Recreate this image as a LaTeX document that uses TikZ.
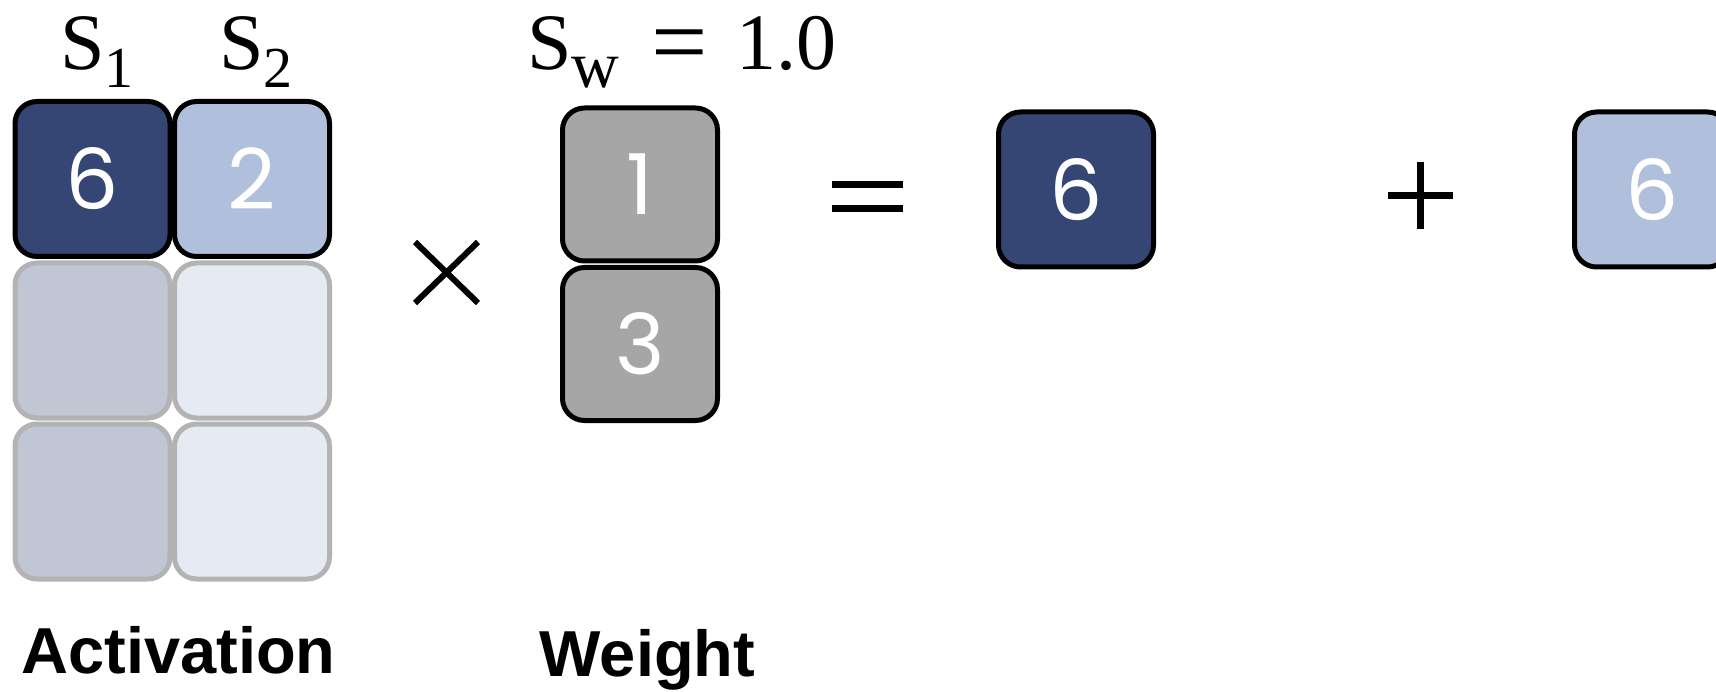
\documentclass[tikz,border=0pt]{standalone}
\usepackage{fontspec}
\newfontfamily\digitfont{Poppins}
\newfontfamily\labelfont{Liberation Sans}
\newfontfamily\serifmath{Liberation Serif}
\definecolor{navy}{HTML}{354574}
\definecolor{lightblue}{HTML}{B0BFDC}
\definecolor{fadenavy}{HTML}{C0C6D3}
\definecolor{fadelight}{HTML}{E6EAF3}
\definecolor{wgray}{HTML}{A6A6A6}
\definecolor{edgegray}{HTML}{B3B3B3}
\begin{document}
\begin{tikzpicture}[x=1pt,y=-1pt,
  cell/.style={draw=black, line width=5pt, rounded corners=22pt, minimum width=155pt, minimum height=155pt, inner sep=0pt, text=white, font=\digitfont\fontsize{84}{90}\selectfont},
  ghost/.style={cell, draw=edgegray},
  scalelbl/.style={anchor=base west, inner sep=0pt, font=\serifmath\fontsize{80}{90}\selectfont},
  namelbl/.style={anchor=base, inner sep=0pt, font=\labelfont\bfseries\fontsize{65}{70}\selectfont},
  opline/.style={line width=7pt}]
\useasboundingbox (0,0) rectangle (1716,692);
\clip (0,0) rectangle (1716,692);
% activation (faded rows)
\node[ghost, fill=fadenavy]  (a21) at (92.5,340.5) {};
\node[ghost, fill=fadelight] (a22) at (252,340.5) {};
\node[ghost, fill=fadenavy]  (a31) at (92.5,501.5) {};
\node[ghost, fill=fadelight] (a32) at (252,501.5) {};
% activation (active row)
\node[cell, fill=navy]      (a11) at (92.5,179) {6};
\node[cell, fill=lightblue] (a12) at (252,179) {2};
% scale labels
\node[scalelbl] (s1) at (60,70) {S\raisebox{-18pt}{\fontsize{58}{60}\selectfont 1}};
\node[scalelbl] (s2) at (219,70) {S\raisebox{-18pt}{\fontsize{58}{60}\selectfont 2}};
\node[scalelbl] (sw) at (527,70) {S\raisebox{-18pt}{\fontsize{66}{66}\selectfont w}\hspace{32pt}\raisebox{-6pt}{\fontsize{100}{100}\selectfont =}\hspace{29pt}1.0};
% weight
\node[cell, fill=wgray, minimum height=153pt] (w1) at (640,184.5) {1};
\node[cell, fill=wgray, minimum height=153pt] (w2) at (640,344) {3};
% results
\node[cell, fill=navy]      (r1) at (1076,189.5) {6};
\node[cell, fill=lightblue] (r2) at (1652,189.5) {6};
% operators
\draw[opline, line width=6pt] (415,242) -- (478,303);
\draw[opline, line width=6pt] (415,303) -- (478,242);
\draw[opline] (832,185) -- (903,185);
\draw[opline] (832,208.5) -- (903,208.5);
\draw[opline] (1388,195.5) -- (1453,195.5);
\draw[opline] (1420.5,162) -- (1420.5,229);
% names
\node[namelbl] (lact) at (178.5,673) {Activation};
\node[namelbl] (lwgt) at (647.5,676) {Weight};
\end{tikzpicture}
\end{document}
